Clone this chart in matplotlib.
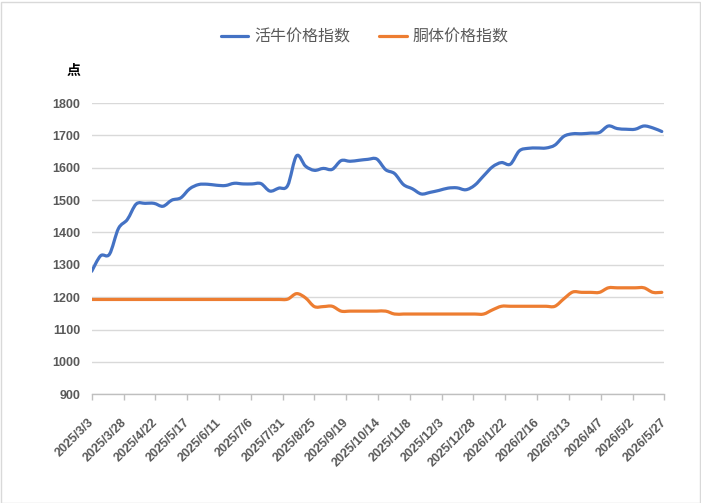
import datetime as dt
import numpy as np
import matplotlib
matplotlib.use("Agg")
import matplotlib.pyplot as plt
import matplotlib.dates as mdates
from matplotlib.path import Path
from matplotlib.patches import PathPatch, Rectangle
from matplotlib.lines import Line2D
from matplotlib.transforms import ScaledTranslation

plt.rcParams['font.family'] = ['Liberation Sans', 'Noto Sans CJK SC', 'DejaVu Sans']

# ---------------- data ----------------
start_date = dt.date(2025, 3, 3)
end_date = dt.date(2026, 5, 27)
n_points = 65
dates = [start_date + dt.timedelta(days=7 * i) for i in range(n_points)]

series_names = ["活牛价格指数", "胴体价格指数"]

live_cattle = [1280, 1328, 1333, 1412, 1440, 1488, 1490, 1490, 1481, 1500,
               1507, 1535, 1548, 1549, 1546, 1545, 1552, 1550, 1550, 1551,
               1528, 1537, 1545, 1637, 1605, 1592, 1598, 1595, 1622, 1620,
               1623, 1626, 1627, 1594, 1582, 1548, 1535, 1519, 1524, 1530,
               1537, 1538, 1532, 1546, 1575, 1603, 1616, 1611, 1652, 1660,
               1661, 1661, 1670, 1697, 1705, 1705, 1707, 1709, 1729, 1721,
               1719, 1719, 1729, 1723, 1712]

carcass = [1193, 1193, 1193, 1193, 1193, 1193, 1193, 1193, 1193, 1193,
           1193, 1193, 1193, 1193, 1193, 1193, 1193, 1193, 1193, 1193,
           1193, 1193, 1194, 1211, 1198, 1171, 1171, 1172, 1157, 1157,
           1157, 1157, 1157, 1157, 1148, 1148, 1148, 1148, 1148, 1148,
           1148, 1148, 1148, 1148, 1148, 1161, 1172, 1172, 1172, 1172,
           1172, 1172, 1172, 1195, 1216, 1215, 1215, 1215, 1229, 1229,
           1229, 1229, 1229, 1215, 1215]

tick_labels = ["2025/3/3", "2025/3/28", "2025/4/22", "2025/5/17", "2025/6/11",
               "2025/7/6", "2025/7/31", "2025/8/25", "2025/9/19", "2025/10/14",
               "2025/11/8", "2025/12/3", "2025/12/28", "2026/1/22", "2026/2/16",
               "2026/3/13", "2026/4/7", "2026/5/2", "2026/5/27"]

y_ticks = [900, 1000, 1100, 1200, 1300, 1400, 1500, 1600, 1700, 1800]

colors = ["#4472C4", "#ED7D31"]
text_gray = "#595959"
grid_gray = "#D9D9D9"

# ---------------- figure ----------------
fig = plt.figure(figsize=(7.01, 5.03), dpi=100)
ax = fig.add_axes([0.1308, 0.2161, 0.9477 - 0.1308, 0.7952 - 0.2161])

xnum = mdates.date2num(dates)


def smooth_path(x, y):
    pts = np.column_stack([x, y]).astype(float)
    n = len(pts)
    verts = [tuple(pts[0])]
    codes = [Path.MOVETO]
    for i in range(n - 1):
        p0 = pts[max(i - 1, 0)]
        p1 = pts[i]
        p2 = pts[i + 1]
        p3 = pts[min(i + 2, n - 1)]
        c1 = p1 + (p2 - p0) / 6.0
        c2 = p2 - (p3 - p1) / 6.0
        verts += [tuple(c1), tuple(c2), tuple(p2)]
        codes += [Path.CURVE4] * 3
    return Path(verts, codes)


for vals, col in zip([live_cattle, carcass], colors):
    patch = PathPatch(smooth_path(xnum, vals), fill=False, edgecolor=col,
                      lw=2.3, capstyle='round', joinstyle='round', zorder=3)
    ax.add_patch(patch)

tick_dates = [dt.datetime.strptime(s, "%Y/%m/%d").date() for s in tick_labels]
ax.set_xlim(mdates.date2num(start_date), mdates.date2num(end_date))
ax.set_ylim(900, 1800)
ax.set_yticks(y_ticks)
ax.set_yticklabels([str(v) for v in y_ticks])
ax.set_xticks(mdates.date2num(tick_dates))
ax.set_xticklabels(tick_labels, rotation=45, ha='right', va='top',
                   rotation_mode='anchor')

ax.grid(axis='y', color=grid_gray, lw=1.0)
ax.set_axisbelow(True)
for s in ['left', 'right', 'top']:
    ax.spines[s].set_visible(False)
ax.spines['bottom'].set_color("#BFBFBF")
ax.spines['bottom'].set_linewidth(1.0)

ax.tick_params(axis='y', length=0, pad=8, labelsize=9, labelcolor=text_gray)
ax.tick_params(axis='x', length=4, width=1, color="#BFBFBF", direction='out',
               pad=12, labelsize=9, labelcolor=text_gray)
offset = ScaledTranslation(-2.5 / 72, 0, fig.dpi_scale_trans)
for lab in ax.get_xticklabels():
    lab.set_fontweight('bold')
    lab.set_transform(lab.get_transform() + offset)
for lab in ax.get_yticklabels():
    lab.set_fontweight('bold')

# unit label
fig.text(74 / 701, 1 - 70.5 / 503, "点", ha='center', va='center', fontsize=10,
         fontweight='bold', color='black', family=['Noto Sans CJK SC', 'DejaVu Sans'])

# legend
handles = [Line2D([], [], color=c, lw=2.3, solid_capstyle='round') for c in colors]
leg = fig.legend(handles, series_names, loc='center', ncol=2,
                 bbox_to_anchor=(365 / 701, 1 - 36.7 / 503), frameon=False,
                 prop={'family': ['Noto Sans CJK SC', 'DejaVu Sans'], 'size': 11.5},
                 handlelength=1.7, handletextpad=0.4, columnspacing=1.8)
for t in leg.get_texts():
    t.set_color(text_gray)

# figure border
fig.patches.append(Rectangle((0.5 / 701, 0.5 / 503), 1 - 2 / 701, 1 - 2 / 503,
                             transform=fig.transFigure, fill=False,
                             edgecolor=grid_gray, lw=1.0))

fig.savefig("out.png", dpi=100)
